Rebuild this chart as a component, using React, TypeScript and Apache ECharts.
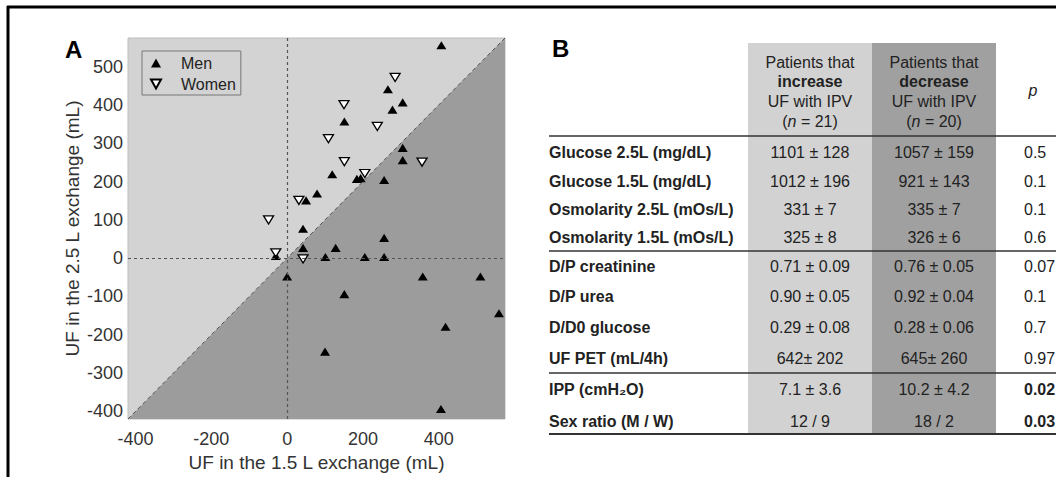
import React, { useEffect, useRef } from 'react';
import * as echarts from 'echarts';

// ---------- Panel A data ----------
const menPoints: [number, number][] = [
  [407, 556], [266, 441], [305, 407], [278, 388], [151, 357], [305, 288], [305, 256],
  [119, 219], [184, 207], [194, 209], [256, 204], [79, 169], [50, 151], [42, 77],
  [256, 53], [42, 27], [128, 27], [-30, 6], [101, 3], [205, 3], [256, 3],
  [0, -48], [358, -48], [510, -48], [151, -94], [559, -144], [418, -179], [100, -244], [406, -394],
];
const womenPoints: [number, number][] = [
  [285, 472], [150, 401], [238, 344], [109, 312], [151, 252], [356, 251], [205, 221],
  [31, 151], [-49, 100], [-30, 14], [42, -2],
];
const axisMin = -420;
const axisMax = 575;
const xTickValues = [-400, -200, 0, 200, 400];
const yTickValues = [-400, -300, -200, -100, 0, 100, 200, 300, 400, 500];
const xAxisName = 'UF in the 1.5 L exchange (mL)';
const yAxisName = 'UF in the 2.5 L exchange (mL)';

// ---------- Panel B data ----------
const rowLabels = [
  'Glucose 2.5L (mg/dL)', 'Glucose 1.5L (mg/dL)', 'Osmolarity 2.5L (mOs/L)', 'Osmolarity 1.5L (mOs/L)',
  'D/P creatinine', 'D/P urea', 'D/D0 glucose', 'UF PET (mL/4h)',
  'IPP (cmH₂O)', 'Sex ratio (M / W)',
];
const increaseValues = [
  '1101 ± 128', '1012 ± 196', '331 ± 7', '325 ± 8',
  '0.71 ± 0.09', '0.90 ± 0.05', '0.29 ± 0.08', '642± 202',
  '7.1 ± 3.6', '12 / 9',
];
const decreaseValues = [
  '1057 ± 159', '921 ± 143', '335 ± 7', '326 ± 6',
  '0.76 ± 0.05', '0.92 ± 0.04', '0.28 ± 0.06', '645± 260',
  '10.2 ± 4.2', '18 / 2',
];
const pValues = ['0.5', '0.1', '0.1', '0.6', '0.07', '0.1', '0.7', '0.97', '0.02', '0.03'];
const significantRows = [8, 9];
const groupHeaders = [
  { line1: 'Patients that', keyword: 'increase', line3: 'UF with IPV', n: '21' },
  { line1: 'Patients that', keyword: 'decrease', line3: 'UF with IPV', n: '20' },
];

// ---------- layout ----------
const FONT = '"Liberation Sans", Arial, Helvetica, sans-serif';
const rowY = [152, 181, 209, 237, 266, 296, 327, 358, 389, 421];
const labelX = 549;
const colCenters = [810, 934];
const colLeft = [748, 872];
const colW = 124;
const pX = 1024;

function buildGraphic() {
  const els: any[] = [];
  // figure frame
  els.push({ type: 'line', shape: { x1: 7, y1: 7, x2: 1056, y2: 7 }, style: { stroke: '#000', lineWidth: 3 } });
  els.push({ type: 'line', shape: { x1: 8, y1: 6, x2: 8, y2: 477 }, style: { stroke: '#000', lineWidth: 3 } });
  // panel letters
  els.push({ type: 'text', x: 65, y: 49, style: { text: 'A', fontSize: 24, fontWeight: 'bold', fontFamily: FONT, fill: '#000', align: 'left', verticalAlign: 'middle' } });
  els.push({ type: 'text', x: 552, y: 48, style: { text: 'B', fontSize: 24, fontWeight: 'bold', fontFamily: FONT, fill: '#000', align: 'left', verticalAlign: 'middle' } });
  // column shading
  els.push({ type: 'rect', shape: { x: colLeft[0], y: 43, width: colW, height: 391 }, style: { fill: '#d2d2d2' } });
  els.push({ type: 'rect', shape: { x: colLeft[1], y: 43, width: colW, height: 391 }, style: { fill: '#a0a0a0' } });
  // headers
  groupHeaders.forEach((h, i) => {
    const cx = colCenters[i];
    const base = { fontSize: 16, fontFamily: FONT, fill: '#222', align: 'center', verticalAlign: 'middle' };
    els.push({ type: 'text', x: cx, y: 62, style: { ...base, text: h.line1 } });
    els.push({ type: 'text', x: cx, y: 81, style: { ...base, text: h.keyword, fontWeight: 'bold' } });
    els.push({ type: 'text', x: cx, y: 101, style: { ...base, text: h.line3 } });
    els.push({
      type: 'text', x: cx, y: 121,
      style: { ...base, text: '({i|n} = ' + h.n + ')', rich: { i: { fontSize: 16, fontFamily: FONT, fontStyle: 'italic', fill: '#222' } } },
    });
  });
  els.push({ type: 'text', x: 1033, y: 90, style: { text: 'p', fontSize: 16, fontStyle: 'italic', fontFamily: FONT, fill: '#222', align: 'center', verticalAlign: 'middle' } });
  // rules
  const rule = (y: number, w: number) => ({ type: 'line', shape: { x1: labelX, y1: y, x2: 1056, y2: y }, style: { stroke: '#333', lineWidth: w } });
  els.push(rule(136, 1.5));
  els.push(rule(251, 1.5));
  els.push(rule(373, 1.5));
  els.push(rule(434, 2));
  // rows
  rowLabels.forEach((lab, i) => {
    const y = rowY[i];
    const base = { fontSize: 16, fontFamily: FONT, fill: '#222', verticalAlign: 'middle' };
    els.push({ type: 'text', x: labelX, y, style: { ...base, text: lab, fontWeight: 'bold', align: 'left' } });
    els.push({ type: 'text', x: colCenters[0], y, style: { ...base, text: increaseValues[i], align: 'center' } });
    els.push({ type: 'text', x: colCenters[1], y, style: { ...base, text: decreaseValues[i], align: 'center' } });
    els.push({ type: 'text', x: pX, y, style: { ...base, text: pValues[i], align: 'left', fontWeight: significantRows.includes(i) ? 'bold' : 'normal' } });
  });
  return els;
}

export default function App() {
  const ref = useRef<HTMLDivElement>(null);
  useEffect(() => {
    if (!ref.current) return;
    const chart = echarts.init(ref.current, undefined, { renderer: 'svg' });
    const menSymbol = 'path://M5,0L10,9L0,9Z';
    const womenSymbol = 'path://M0,0L10,0L5,9Z';
    chart.setOption({
      animation: false,
      backgroundColor: '#fff',
      textStyle: { fontFamily: FONT },
      grid: {
        left: 128, top: 38, width: 377, height: 381, show: true,
        backgroundColor: '#d3d3d3', borderColor: '#bdbdbd', borderWidth: 1,
      },
      legend: {
        orient: 'vertical', left: 142, top: 51,
        padding: [4, 5, 3, 8], itemWidth: 40, itemHeight: 9, itemGap: 5,
        borderColor: '#777', borderWidth: 1, backgroundColor: 'transparent',
        textStyle: { fontSize: 16, color: '#222', fontFamily: FONT },
        data: [{ name: 'Men' }, { name: 'Women' }],
      },
      xAxis: {
        type: 'value', min: axisMin, max: axisMax,
        name: xAxisName, nameLocation: 'middle', nameGap: 34,
        nameTextStyle: { fontSize: 19, color: '#333', fontFamily: FONT },
        axisLine: { show: false }, axisTick: { show: false }, splitLine: { show: false },
        axisLabel: { customValues: xTickValues, fontSize: 18, color: '#333', margin: 11, fontFamily: FONT },
      },
      yAxis: {
        type: 'value', min: axisMin, max: axisMax,
        name: yAxisName, nameLocation: 'middle', nameGap: 46,
        nameTextStyle: { fontSize: 19, color: '#333', fontFamily: FONT },
        axisLine: { show: false }, axisTick: { show: false }, splitLine: { show: false },
        axisLabel: { customValues: yTickValues, fontSize: 18, color: '#333', margin: 5, fontFamily: FONT },
      },
      series: [
        {
          name: 'identity', type: 'line', silent: true, z: 1,
          data: [[axisMin, axisMin], [axisMax, axisMax]],
          symbol: 'none',
          lineStyle: { color: '#555', width: 1, type: [4, 3] },
          areaStyle: { color: '#9c9c9c', origin: 'start', opacity: 1 },
          markLine: {
            silent: true, symbol: ['none', 'none'], label: { show: false },
            lineStyle: { color: '#555', width: 1.2, type: [3, 3] },
            data: [{ xAxis: 0 }, { yAxis: 0 }],
          },
        },
        {
          name: 'Men', type: 'scatter', z: 3, data: menPoints,
          symbol: menSymbol, symbolSize: [10, 9], symbolKeepAspect: true,
          itemStyle: { color: '#000', opacity: 1 },
        },
        {
          name: 'Women', type: 'scatter', z: 4, data: womenPoints,
          symbol: womenSymbol, symbolSize: [10, 9], symbolKeepAspect: true,
          itemStyle: { color: '#fff', borderColor: '#000', borderWidth: 1.3, opacity: 1 },
        },
      ],
      graphic: buildGraphic(),
    });
    return () => chart.dispose();
  }, []);
  return <div ref={ref} style={{ position: 'fixed', left: 0, top: 0, width: 1056, height: 477 }} />;
}
